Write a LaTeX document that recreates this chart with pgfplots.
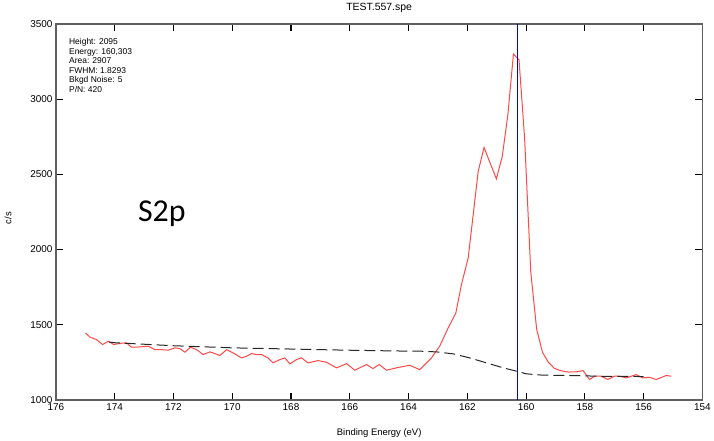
\documentclass[border=0pt]{standalone}
\usepackage{pgfplots}
\pgfplotsset{compat=1.18}
\usepackage{fontspec}
\setmainfont{Liberation Sans}
\newfontfamily\calib{Carlito}
\definecolor{spred}{HTML}{FF4848}
\definecolor{spblue}{HTML}{2F2FF0}
\definecolor{spframe}{HTML}{606060}

\begin{document}
\begin{tikzpicture}
\begin{axis}[
  scale only axis, width=647bp, height=376bp,
  x dir=reverse, xmin=154, xmax=176, ymin=1000, ymax=3500,
  xtick={154,156,...,176}, ytick={1000,1500,...,3500},
  tick align=inside, major tick length=7bp,
  axis line style={draw=spframe, line width=1.4bp},
  every tick/.style={draw=black, line width=1.1bp},
  tick label style={font=\fontsize{10}{12}\selectfont},
  /pgf/number format/assume math mode=true,
  /pgf/number format/set thousands separator={},
  xlabel={Binding Energy (eV)},
  xlabel style={font=\fontsize{9.5}{11}\selectfont, at={(axis description cs:0.5,-0.088)}, anchor=center},
  ylabel={c/s},
  ylabel style={font=\fontsize{9.5}{11}\selectfont, at={(axis description cs:-0.074,0.484)}, anchor=center},
  title={TEST.557.spe},
  title style={font=\fontsize{10.5}{12}\selectfont, at={(axis description cs:0.5,1.027)}, anchor=center},
]
% measured spectrum
\addplot[draw=spred, line width=1bp] coordinates {
(175.0,1445) (174.84,1417) (174.62,1401) (174.41,1368) (174.22,1390) (174.03,1368)
(173.77,1377) (173.60,1379) (173.43,1350) (173.14,1352) (172.86,1357) (172.63,1334)
(172.40,1334) (172.18,1330) (171.95,1346) (171.78,1341) (171.61,1317) (171.42,1350)
(171.21,1334) (170.99,1301) (170.76,1319) (170.65,1312) (170.42,1295) (170.19,1334)
(169.97,1312) (169.68,1279) (169.51,1290) (169.34,1308) (169.17,1301) (169.00,1301)
(168.78,1279) (168.61,1246) (168.38,1268) (168.21,1279) (168.04,1239) (167.81,1268)
(167.64,1279) (167.42,1246) (167.08,1261) (166.79,1250) (166.45,1213) (166.11,1241)
(165.83,1197) (165.43,1235) (165.21,1208) (165.00,1235) (164.75,1197) (164.41,1213)
(163.96,1230) (163.62,1201) (163.22,1279) (162.94,1357) (162.65,1479) (162.39,1578)
(162.20,1767) (161.97,1944) (161.80,2232) (161.63,2520) (161.43,2680) (161.20,2564)
(161.01,2471) (160.81,2620) (160.62,2897) (160.43,3301) (160.24,3262) (160.05,2742)
(159.84,1850) (159.64,1470) (159.44,1315) (159.24,1250) (159.04,1210) (158.84,1195)
(158.57,1185) (158.29,1186) (158.06,1195) (157.84,1135) (157.67,1157) (157.44,1157)
(157.22,1135) (157.00,1157) (156.82,1157) (156.59,1146) (156.25,1168) (156.03,1146)
(155.80,1150) (155.57,1135) (155.23,1162) (155.06,1157)
};
% background
\addplot[draw=black!85, line width=1bp, dash pattern=on 11bp off 5bp] coordinates {
(174.2,1385) (174.0,1380) (172.0,1360) (170.0,1346) (168.0,1338) (166.0,1330)
(164.0,1324) (163.62,1324) (163.05,1319) (162.48,1306) (161.92,1279) (161.35,1246)
(160.78,1213) (160.33,1191) (159.99,1173) (159.43,1164) (158.52,1162) (157.5,1157)
(156.0,1155)
};
% peak position marker
\addplot[draw=blue, line width=1.3bp] coordinates {(160.303,1000) (160.303,3500)};
\node[anchor=north west, align=left, inner sep=0pt, font=\fontsize{8.5}{9.6}\selectfont]
  at (axis description cs:0.0201,0.962)
  {Height: 2095\\Energy: 160,303\\Area: 2907\\FWHM: 1.8293\\Bkgd Noise: 5\\P/N: 420};
\node[anchor=base west, inner sep=0pt, font=\calib\fontsize{32}{36}\selectfont]
  at (axis cs:173.21,2190) {S2p};
\end{axis}
\path ([shift={(-56bp,-40bp)}]current axis.south west) rectangle ([shift={(11bp,16bp)}]current axis.north east);
\end{tikzpicture}
\end{document}
